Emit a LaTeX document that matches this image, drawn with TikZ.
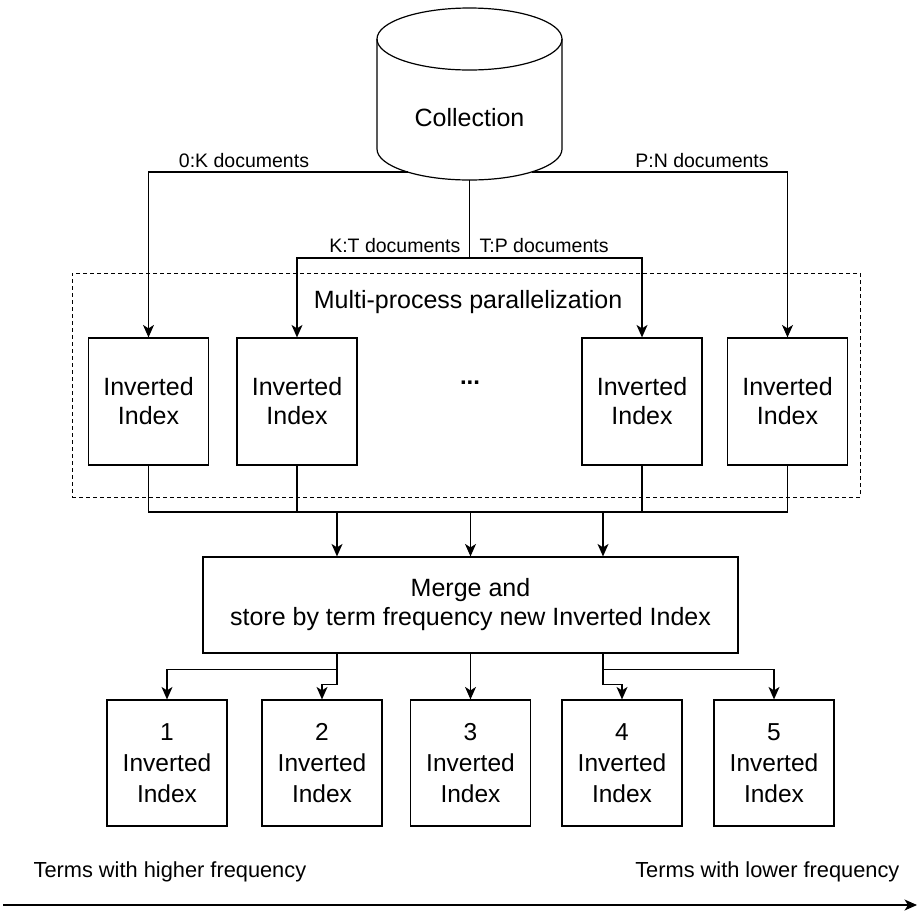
\documentclass[tikz,border=0pt]{standalone}
\usepackage{fontspec}
\setmainfont{Liberation Sans}
\usetikzlibrary{arrows.meta}
\begin{document}
\begin{tikzpicture}[x=1pt,y=-1pt, line width=1.2pt,
  box/.style={draw, line width=1.2pt, minimum width=120pt, minimum height=127pt, inner sep=0pt, align=center, font=\fontsize{25}{29}\selectfont},
  bbox/.style={box, minimum height=126pt, font=\fontsize{24.5}{31}\selectfont},
  lbl/.style={font=\fontsize{19.5}{22}\selectfont, inner sep=0pt},
  btxt/.style={font=\fontsize{21.8}{25}\selectfont, inner sep=0pt},
  arr/.style={-{Stealth[length=12.5pt,width=11pt,inset=3.5pt]}},
  ]
\fill[white] (0,0) rectangle (917,911);
\useasboundingbox (0,0) rectangle (917,911);

% Collection cylinder
\draw (377,39) .. controls (377,21.9) and (418.4,8) .. (469.5,8)
  .. controls (520.6,8) and (562,21.9) .. (562,39)
  .. controls (562,56.1) and (520.6,70) .. (469.5,70)
  .. controls (418.4,70) and (377,56.1) .. (377,39) -- cycle;
\draw (377,39) -- (377,149) .. controls (377,166.1) and (418.4,180) .. (469.5,180)
  .. controls (520.6,180) and (562,166.1) .. (562,149) -- (562,39);
\node[inner sep=0pt, font=\fontsize{25}{29}\selectfont] (coll) at (469.5,118) {Collection};
\coordinate (cL) at (407.5,172);
\coordinate (cR) at (531.5,172);
\coordinate (cB) at (469.5,180);
\coordinate (split) at (469.5,258);

% parallel box
\node[draw, dashed, line width=1pt, dash pattern=on 4pt off 3pt, minimum width=788pt, minimum height=224pt, inner sep=0pt] (par) at (466,385) {};
\node[inner sep=0pt, font=\fontsize{25}{29}\selectfont] (partitle) at (468,302) {Multi-process parallelization};

\node[box] (A) at (148.5,401.5) {Inverted\\Index};
\node[box] (B) at (297,401.5) {Inverted\\Index};
\node[box] (C) at (642,401.5) {Inverted\\Index};
\node[box] (D) at (787.5,401.5) {Inverted\\Index};
\node[inner sep=0pt, font=\bfseries\fontsize{24}{29}\selectfont] (dots) at (470,383) {...};

% labels
\node[lbl] (l0k) at (244,161) {0:K documents};
\node[lbl] (lpn) at (702,161) {P:N documents};
\node[lbl, anchor=east] (lkt) at (461,246) {K:T documents};
\node[lbl, anchor=west] (ltp) at (479,246) {T:P documents};

% collection connectors
\draw[arr] (cL) -| (A.north);
\draw[arr] (cR) -| (D.north);
\draw (cB) -- (split);
\draw[arr] (split) -| (B.north);
\draw[arr] (split) -| (C.north);

% merge
\node[draw, minimum width=535pt, minimum height=96pt, inner sep=0pt, align=center, font=\fontsize{25}{29}\selectfont] (M) at (470.5,605) {Merge and\\store by term frequency new Inverted Index};

\coordinate (bus) at (470,512);
\draw (A.south) -- (A.south |- bus) -- (D.south |- bus) -- (D.south);
\draw (B.south) -- (B.south |- bus);
\draw (C.south) -- (C.south |- bus);
\coordinate (m1) at (337,512);
\coordinate (m2) at (470.5,512);
\coordinate (m3) at (603,512);
\draw[arr] (m1) -- (m1 |- M.north);
\draw[arr] (m2) -- (m2 |- M.north);
\draw[arr] (m3) -- (m3 |- M.north);

% output boxes
\node[bbox] (N1) at (167,763) {1\\Inverted\\Index};
\node[bbox] (N2) at (322,763) {2\\Inverted\\Index};
\node[bbox] (N3) at (470.5,763) {3\\Inverted\\Index};
\node[bbox] (N4) at (622,763) {4\\Inverted\\Index};
\node[bbox] (N5) at (774,763) {5\\Inverted\\Index};

\coordinate (o1) at (m1 |- M.south);
\coordinate (o3) at (m3 |- M.south);
\draw[arr] (o1) -- ++(0,16) -| (N1.north);
\draw[arr] (o1) -- ++(0,31) -| (N2.north);
\draw[arr] (M.south) -- (N3.north);
\draw[arr] (o3) -- ++(0,16) -| (N5.north);
\draw[arr] (o3) -- ++(0,31) -| (N4.north);

% frequency axis
\node[btxt, anchor=west] (hi) at (33,872) {Terms with higher frequency};
\node[btxt, anchor=east] (lo) at (900,872) {Terms with lower frequency};
\coordinate (a0) at (3,905);
\coordinate (a1) at (917,905);
\draw[arr] (a0) -- (a1);
\end{tikzpicture}
\end{document}
